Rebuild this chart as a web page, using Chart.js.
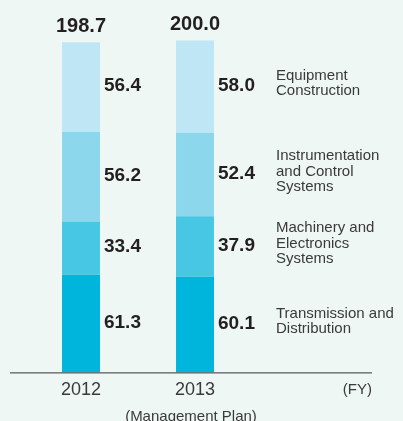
<!DOCTYPE html>
<html>
<head>
<meta charset="utf-8">
<script src="https://cdn.jsdelivr.net/npm/chart.js@4/dist/chart.umd.min.js"></script>
<style>
  body { margin: 0; background: #eef7f3; }
  canvas { display: block; }
</style>
</head>
<body>
<canvas id="myChart" width="403" height="421"></canvas>
<script>
const years = ['2012', '2013'];
const totals = ['198.7', '200.0'];

// bottom to top
const segmentNames = [
  ['Transmission and', 'Distribution'],
  ['Machinery and', 'Electronics', 'Systems'],
  ['Instrumentation', 'and Control', 'Systems'],
  ['Equipment', 'Construction']
];
const transmission = [61.3, 60.1];
const machinery = [33.4, 37.9];
const instrumentation = [56.2, 52.4];
const equipment = [56.4, 58.0];
const segColors = ['#00b5db', '#48c7e4', '#8dd7ec', '#bee6f4'];

const segValues = [transmission, machinery, instrumentation, equipment];

const labelsPlugin = {
  id: 'labelsPlugin',
  afterDatasetsDraw(chart) {
    const ctx = chart.ctx;
    const area = chart.chartArea;
    const xScale = chart.scales.x;
    ctx.save();

    // axis line
    ctx.strokeStyle = '#333';
    ctx.lineWidth = 1;
    ctx.beginPath();
    ctx.moveTo(10, area.bottom + 0.5);
    ctx.lineTo(372, area.bottom + 0.5);
    ctx.stroke();

    // value labels beside each segment
    ctx.fillStyle = '#231f20';
    ctx.font = 'bold 19px "Liberation Sans", Arial, sans-serif';
    ctx.textAlign = 'left';
    ctx.textBaseline = 'middle';
    chart.data.datasets.forEach((ds, i) => {
      chart.getDatasetMeta(i).data.forEach((bar, j) => {
        const y = (bar.y + bar.base) / 2 - 1;
        ctx.fillText(ds.data[j].toFixed(1), bar.x + bar.width / 2 + 4, y);
      });
    });

    // totals over bars
    const topMeta = chart.getDatasetMeta(chart.data.datasets.length - 1);
    ctx.font = 'bold 20px "Liberation Sans", Arial, sans-serif';
    ctx.textAlign = 'center';
    topMeta.data.forEach((bar, j) => {
      ctx.fillText(totals[j], bar.x, bar.y - 16);
    });

    // segment names on the right, lined up with the 2013 bar
    ctx.fillStyle = '#3a3a3a';
    ctx.font = '15px "Liberation Sans", Arial, sans-serif';
    ctx.textAlign = 'left';
    chart.data.datasets.forEach((ds, i) => {
      const bar = chart.getDatasetMeta(i).data[1];
      const mid = (bar.y + bar.base) / 2 - 3;
      const lines = segmentNames[i];
      const lh = 15.5;
      lines.forEach((line, k) => {
        ctx.fillText(line, 276, mid + (k - (lines.length - 1) / 2) * lh);
      });
    });

    // (FY) and management plan note
    ctx.font = '15px "Liberation Sans", Arial, sans-serif';
    ctx.textAlign = 'right';
    ctx.fillText('(FY)', 372, area.bottom + 17);
    ctx.textAlign = 'center';
    ctx.fillText('(Management Plan)', xScale.getPixelForValue(1) - 4, area.bottom + 44);
    ctx.restore();
  }
};

new Chart('myChart', {
  type: 'bar',
  data: {
    labels: years,
    datasets: segValues.map((vals, i) => ({
      label: segmentNames[i].join(' '),
      data: vals,
      backgroundColor: segColors[i],
      borderWidth: 0,
      categoryPercentage: 1,
      barPercentage: 0.333
    }))
  },
  options: {
    responsive: false,
    animation: false,
    layout: { padding: { left: 24, right: 151, top: 6, bottom: 13 } },
    plugins: {
      legend: { display: false },
      tooltip: { enabled: false }
    },
    scales: {
      x: {
        stacked: true,
        grid: { display: false, drawTicks: false },
        border: { display: false },
        ticks: {
          padding: 7,
          color: '#3a3a3a',
          font: { size: 18, family: '"Liberation Sans", Arial, sans-serif' }
        }
      },
      y: {
        stacked: true,
        display: false,
        min: 0,
        max: 230
      }
    }
  },
  plugins: [labelsPlugin]
});
</script>
</body>
</html>
